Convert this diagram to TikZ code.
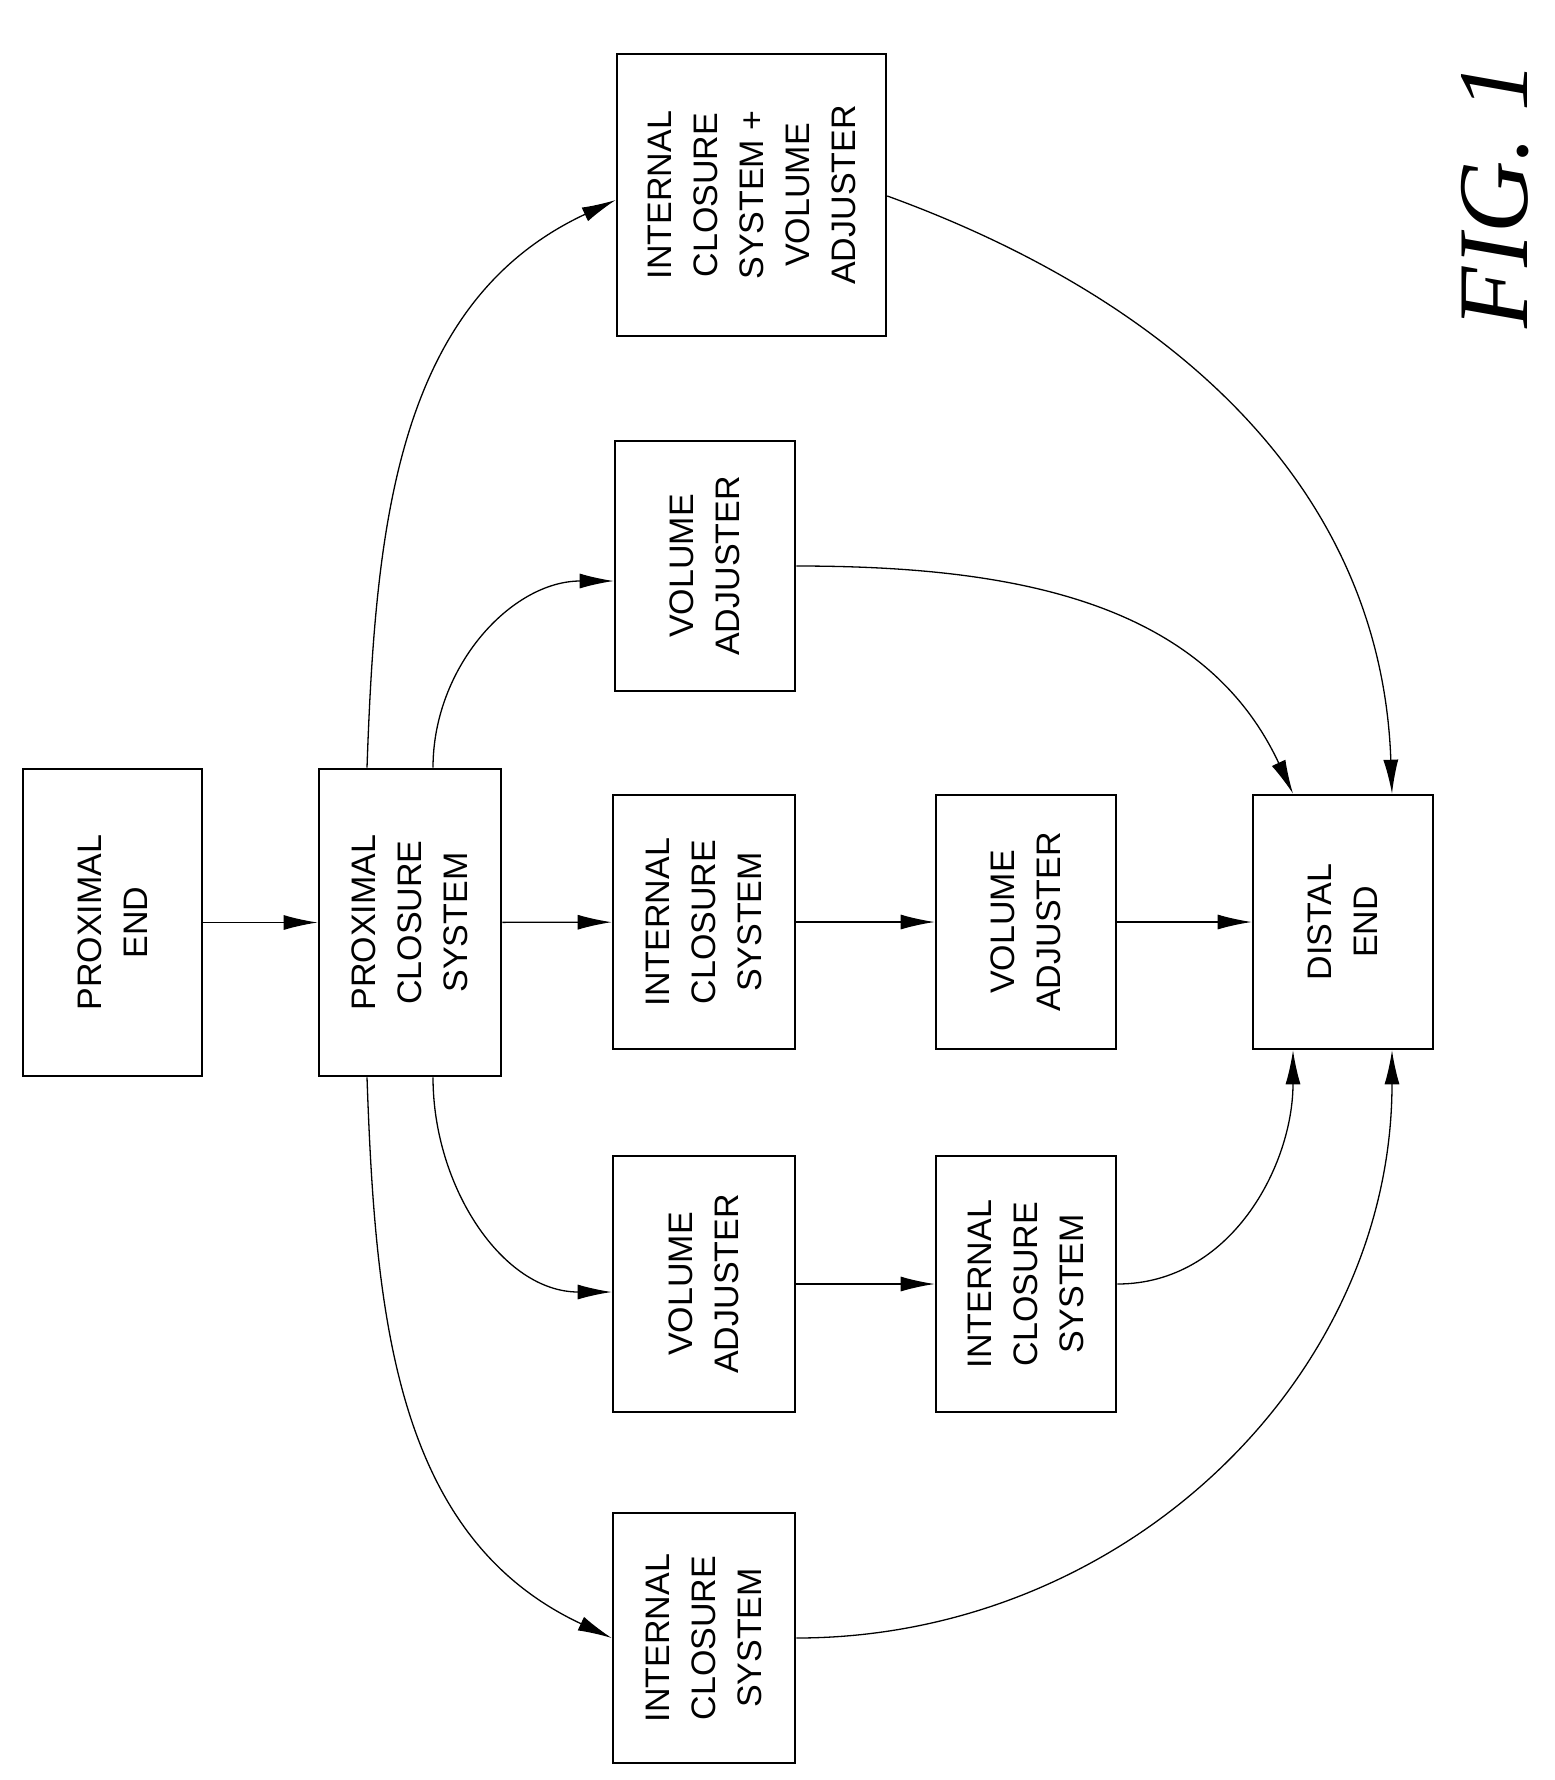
\documentclass[tikz,border=0pt]{standalone}
\usepackage{fontspec}
\setmainfont{Liberation Sans}
\newfontfamily\figfont{Liberation Serif}
\usetikzlibrary{arrows.meta}
\begin{document}
\begin{tikzpicture}[x=1pt,y=-1pt,
  lbl/.style={rotate=90,align=center,font=\fontsize{34}{46}\selectfont},
  arr/.style={line width=1.3pt,-{Latex[length=34pt,width=15pt]}}]
\useasboundingbox (0,0) rectangle (1555,1780);
\newcommand\mybox[6]{\node[draw,line width=2.6pt,inner sep=0pt,minimum width=#4-#2,minimum height=#5-#3] (#1) at ({(#2+#4)/2},{(#3+#5)/2}) {};
 \node[lbl] at (#1) {#6};}
\mybox{pe}{23}{769}{202}{1076}{PROXIMAL\\END}
\mybox{pcs}{319}{769}{501}{1076}{PROXIMAL\\CLOSURE\\SYSTEM}
\mybox{ics}{613}{795}{795}{1049}{INTERNAL\\CLOSURE\\SYSTEM}
\mybox{va}{936}{795}{1116}{1049}{VOLUME\\ADJUSTER}
\mybox{de}{1253}{795}{1433}{1049}{DISTAL\\END}
\mybox{vat}{615}{441}{795}{691}{VOLUME\\ADJUSTER}
\mybox{icva}{617}{54}{886}{336}{INTERNAL\\CLOSURE\\SYSTEM +\\VOLUME\\ADJUSTER}
\mybox{val}{613}{1156}{795}{1412}{VOLUME\\ADJUSTER}
\mybox{icl}{936}{1156}{1116}{1412}{INTERNAL\\CLOSURE\\SYSTEM}
\mybox{icb}{613}{1513}{795}{1763}{INTERNAL\\CLOSURE\\SYSTEM}
\node[rotate=90,font=\figfont\itshape\fontsize{100}{110}\selectfont] (fig) at (1495,195) {FIG.~1};
\draw[arr] (pe) -- (pcs);
\draw[arr] (pcs) -- (ics);
\draw[arr] (ics) -- (va);
\draw[arr] (va) -- (de);
\draw[arr] (val) -- (icl);
\draw[arr] ([xshift=23pt]pcs.north) to[out=90,in=180] ([yshift=-15pt]vat.west);
\draw[arr] ([xshift=-43pt]pcs.north) to[out=88,in=205] ([yshift=-5pt]icva.west);
\draw[arr] (vat.east) to[out=0,in=115] ([xshift=-50pt]de.north);
\draw[arr] ([yshift=-1pt]icva.east) to[out=-20,in=92] ([xshift=49pt]de.north);
\draw[arr] ([xshift=23pt]pcs.south) to[out=-90,in=180] ([yshift=-8pt]val.west);
\draw[arr] ([xshift=-43pt]pcs.south) to[out=-88,in=155] (icb.west);
\draw[arr] (icl.east) to[out=0,in=-90] ([xshift=-50pt]de.south);
\draw[arr] (icb.east) to[out=0,in=-90] ([xshift=49pt]de.south);
\end{tikzpicture}
\end{document}
